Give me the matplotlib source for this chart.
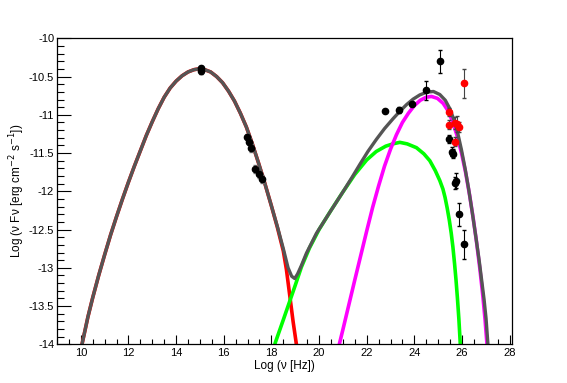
import matplotlib
matplotlib.use("Agg")
import matplotlib.pyplot as plt
from matplotlib.ticker import MultipleLocator, FormatStrFormatter

plt.rcParams['font.family'] = ['Liberation Sans', 'DejaVu Sans']

# model curves (log nu, log nuFnu)
sync_x = [10.05, 10.3, 10.5, 10.75, 11.0, 11.25, 11.5, 11.75, 12.0, 12.25, 12.5, 12.75,
          13.0, 13.25, 13.5, 13.75, 14.0, 14.25, 14.5, 14.75, 14.95, 15.2, 15.45, 15.7,
          15.95, 16.2, 16.45, 16.7, 16.95, 17.2, 17.45, 17.7, 18.0, 18.25, 18.5, 18.63,
          18.77, 18.91, 19.05]
sync_y = [-14.0, -13.64, -13.39, -13.10, -12.83, -12.57, -12.33, -12.10, -11.88, -11.67,
          -11.47, -11.27, -11.09, -10.92, -10.77, -10.65, -10.56, -10.49, -10.44, -10.41,
          -10.40, -10.41, -10.44, -10.50, -10.58, -10.69, -10.82, -10.98, -11.16, -11.38,
          -11.62, -11.87, -12.19, -12.47, -12.78, -13.02, -13.36, -13.70, -14.0]

ssc_x = [18.14, 18.5, 18.8, 19.0, 19.26, 19.6, 20.0, 20.5, 21.0, 21.5, 22.0, 22.4, 22.8,
         23.1, 23.39, 23.7, 24.09, 24.4, 24.65, 24.88, 25.07, 25.2, 25.29, 25.38, 25.47,
         25.55, 25.62, 25.69, 25.75, 25.81, 25.87, 25.93]
ssc_y = [-14.0, -13.68, -13.41, -13.23, -12.99, -12.74, -12.50, -12.25, -12.01, -11.78,
         -11.59, -11.48, -11.41, -11.38, -11.36, -11.38, -11.43, -11.51, -11.60, -11.73,
         -11.86, -11.97, -12.08, -12.22, -12.38, -12.55, -12.73, -12.95, -13.16, -13.40,
         -13.67, -14.0]

ec_x = [20.85, 21.0, 21.5, 22.0, 22.25, 22.5, 22.75, 23.0, 23.25, 23.5, 23.75, 24.0,
        24.25, 24.5, 24.72, 24.97, 25.21, 25.42, 25.62, 25.8, 25.98, 26.15, 26.32, 26.47,
        26.61, 26.75, 26.88, 26.97, 27.05]
ec_y = [-14.0, -13.81, -13.16, -12.52, -12.21, -11.93, -11.67, -11.45, -11.26, -11.10,
        -10.98, -10.88, -10.81, -10.77, -10.76, -10.785, -10.85, -10.95, -11.10, -11.28,
        -11.50, -11.75, -12.05, -12.35, -12.66, -13.01, -13.38, -13.68, -14.0]

tot_x = [10.05, 10.3, 10.5, 10.75, 11.0, 11.25, 11.5, 11.75, 12.0, 12.25, 12.5, 12.75,
         13.0, 13.25, 13.5, 13.75, 14.0, 14.25, 14.5, 14.75, 14.95, 15.2, 15.45, 15.7,
         15.95, 16.2, 16.45, 16.7, 16.95, 17.2, 17.45, 17.7, 18.0, 18.25, 18.5, 18.7,
         18.85, 18.98, 19.1, 19.26, 19.47, 19.89, 20.42, 20.75, 21.11, 21.4, 21.71, 22.05,
         22.41, 22.75, 23.11, 23.39, 23.68, 23.95, 24.23, 24.51, 24.8, 25.07, 25.3, 25.49,
         25.67, 25.83, 25.98, 26.13, 26.28, 26.43, 26.58, 26.72, 26.85, 26.93, 27.01, 27.09]
tot_y = [-14.0, -13.64, -13.39, -13.10, -12.83, -12.57, -12.33, -12.10, -11.88, -11.67,
         -11.47, -11.27, -11.09, -10.92, -10.77, -10.65, -10.56, -10.49, -10.44, -10.41,
         -10.40, -10.41, -10.44, -10.50, -10.58, -10.69, -10.82, -10.98, -11.16, -11.38,
         -11.62, -11.87, -12.19, -12.46, -12.75, -13.00, -13.11, -13.14, -13.08, -12.97,
         -12.81, -12.55, -12.29, -12.13, -11.955, -11.81, -11.65, -11.48, -11.32, -11.18,
         -11.05, -10.955, -10.865, -10.795, -10.74, -10.705, -10.695, -10.735, -10.81,
         -10.92, -11.07, -11.25, -11.46, -11.70, -11.97, -12.27, -12.59, -12.90, -13.22,
         -13.42, -13.66, -14.0]

# data points
opt_x = [15.06, 15.06]
opt_y = [-10.39, -10.43]
opt_e = [0.03, 0.04]

xr_x = [16.97, 17.05, 17.15, 17.32, 17.48, 17.60]
xr_y = [-11.29, -11.36, -11.43, -11.71, -11.78, -11.84]
xr_e = [0.04, 0.04, 0.05, 0.05, 0.04, 0.05]

ge_x = [22.76, 23.34, 23.90, 24.51, 25.07, 25.46, 25.58, 25.62, 25.72, 25.77, 25.87, 26.08]
ge_y = [-10.95, -10.94, -10.86, -10.68, -10.30, -11.32, -11.48, -11.51, -11.89, -11.86, -12.30, -12.69]
ge_e = [0.0, 0.04, 0.03, 0.12, 0.15, 0.05, 0.06, 0.06, 0.08, 0.1, 0.15, 0.19]

red_x = [25.46, 25.46, 25.69, 25.69, 25.80, 25.87, 26.10]
red_y = [-10.96, -11.13, -11.35, -11.11, -11.12, -11.16, -10.59]
red_e = [0.05, 0.06, 0.06, 0.08, 0.10, 0.06, 0.19]

fig = plt.figure(figsize=(5.67, 3.83), dpi=100)
ax = fig.add_axes([0.1005, 0.101, 0.8025, 0.799])

style = dict(solid_joinstyle='round', solid_capstyle='butt')
ax.plot(sync_x, sync_y, color='#ff0000', lw=2.6, **style)
ax.plot(ssc_x, ssc_y, color='#00ff00', lw=2.6, **style)
ax.plot(ec_x, ec_y, color='#ff00ff', lw=2.6, **style)
ax.plot(tot_x, tot_y, color='#555555', lw=2.4, **style)

ax.errorbar(opt_x, opt_y, yerr=opt_e, fmt='o', color='k', ms=4.5, capsize=1.5, elinewidth=0.8)
ax.errorbar(xr_x, xr_y, yerr=xr_e, fmt='o', color='k', ecolor='#777777', ms=4.5,
            capsize=1.5, elinewidth=0.8)
ax.errorbar(ge_x, ge_y, yerr=ge_e, fmt='o', color='k', ms=4.5, capsize=1.5, elinewidth=0.8)
ax.errorbar(red_x, red_y, yerr=red_e, fmt='o', color='#ff0000', ecolor='#444444', ms=4.5,
            capsize=1.5, elinewidth=0.8)

ax.set_xlim(9, 28.1)
ax.set_ylim(-14, -10)
ax.xaxis.set_major_locator(MultipleLocator(2))
ax.xaxis.set_minor_locator(MultipleLocator(0.5))
ax.yaxis.set_major_locator(MultipleLocator(0.5))
ax.yaxis.set_minor_locator(MultipleLocator(0.1))
ax.yaxis.set_major_formatter(FormatStrFormatter('%g'))
ax.tick_params(axis='both', which='both', direction='in', top=False, right=False,
               labelsize=8, width=0.8)
ax.tick_params(axis='y', which='major', length=9.8, pad=2)
ax.tick_params(axis='y', which='minor', length=4.9)
ax.tick_params(axis='x', which='major', length=6.6, pad=3)
ax.tick_params(axis='x', which='minor', length=3.3)
for s in ax.spines.values():
    s.set_linewidth(0.9)

ax.set_xlabel('Log (\u03bd [Hz])', fontsize=8.5, labelpad=1)
ax.set_ylabel('Log (\u03bd F\u03bd [erg cm$^{-2}$ s$^{-1}$])', fontsize=8.5, labelpad=1)

plt.savefig('out.png', dpi=100)
